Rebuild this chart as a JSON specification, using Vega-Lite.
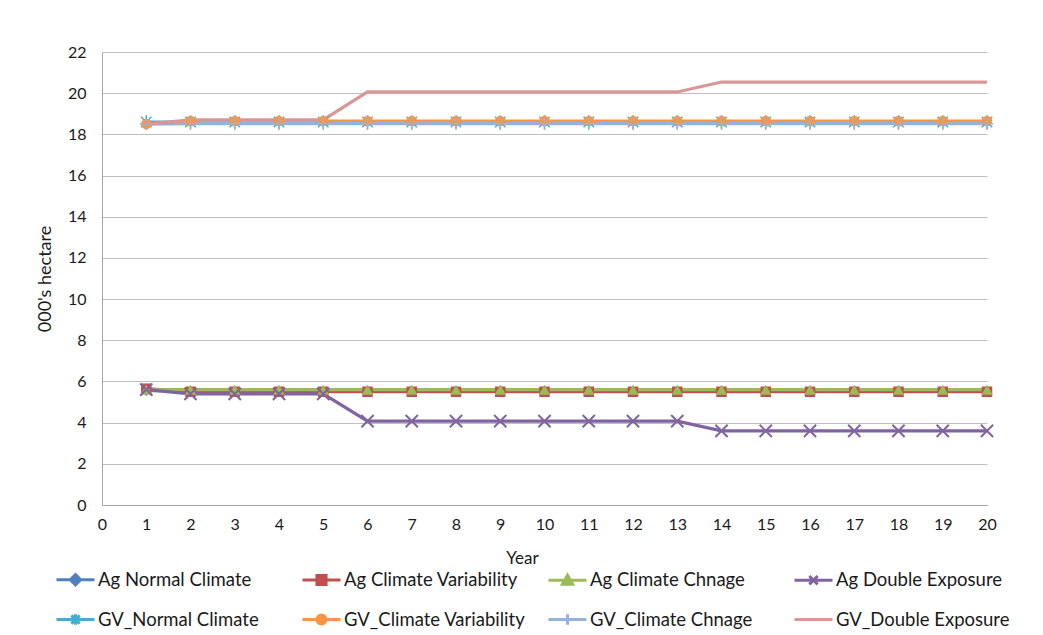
{
  "$schema": "https://vega.github.io/schema/vega-lite/v6.json",
  "width": 885,
  "height": 453,
  "autosize": {"type": "none"},
  "padding": {"left": 102, "top": 52, "right": 56, "bottom": 130},
  "background": "white",
  "config": {
    "view": {"stroke": null},
    "font": "Lato",
    "axis": {"labelFont": "Lato", "titleFont": "Lato", "labelColor": "#1a1a1a", "titleColor": "#1a1a1a", "labelFontSize": 16, "titleFontSize": 17, "titleFontWeight": "normal", "ticks": false, "domainColor": "#A6A6A6", "gridColor": "#BFBFBF"},
    "legend": {"labelFont": "Lato", "labelFontSize": 18.5, "labelColor": "#1a1a1a", "labelLimit": 300},
    "point": {"filled": true, "size": 110, "strokeWidth": 1.5, "opacity": 1}
  },
  "data": {
    "values": [
      {"year": 1, "Ag Normal Climate": 5.55, "Ag Climate Variability": 5.65, "Ag Climate Chnage": 5.6, "Ag Double Exposure": 5.6, "GV_Normal Climate": 18.6, "GV_Climate Variability": 18.5, "GV_Climate Chnage": 18.5, "GV_Double Exposure": 18.5},
      {"year": 2, "Ag Normal Climate": 5.55, "Ag Climate Variability": 5.5, "Ag Climate Chnage": 5.6, "Ag Double Exposure": 5.4, "GV_Normal Climate": 18.6, "GV_Climate Variability": 18.65, "GV_Climate Chnage": 18.52, "GV_Double Exposure": 18.7},
      {"year": 3, "Ag Normal Climate": 5.55, "Ag Climate Variability": 5.5, "Ag Climate Chnage": 5.6, "Ag Double Exposure": 5.4, "GV_Normal Climate": 18.6, "GV_Climate Variability": 18.65, "GV_Climate Chnage": 18.52, "GV_Double Exposure": 18.7},
      {"year": 4, "Ag Normal Climate": 5.55, "Ag Climate Variability": 5.5, "Ag Climate Chnage": 5.6, "Ag Double Exposure": 5.4, "GV_Normal Climate": 18.6, "GV_Climate Variability": 18.65, "GV_Climate Chnage": 18.52, "GV_Double Exposure": 18.7},
      {"year": 5, "Ag Normal Climate": 5.55, "Ag Climate Variability": 5.5, "Ag Climate Chnage": 5.6, "Ag Double Exposure": 5.4, "GV_Normal Climate": 18.6, "GV_Climate Variability": 18.65, "GV_Climate Chnage": 18.52, "GV_Double Exposure": 18.7},
      {"year": 6, "Ag Normal Climate": 5.55, "Ag Climate Variability": 5.5, "Ag Climate Chnage": 5.6, "Ag Double Exposure": 4.07, "GV_Normal Climate": 18.6, "GV_Climate Variability": 18.65, "GV_Climate Chnage": 18.52, "GV_Double Exposure": 20.06},
      {"year": 7, "Ag Normal Climate": 5.55, "Ag Climate Variability": 5.5, "Ag Climate Chnage": 5.6, "Ag Double Exposure": 4.07, "GV_Normal Climate": 18.6, "GV_Climate Variability": 18.65, "GV_Climate Chnage": 18.52, "GV_Double Exposure": 20.06},
      {"year": 8, "Ag Normal Climate": 5.55, "Ag Climate Variability": 5.5, "Ag Climate Chnage": 5.6, "Ag Double Exposure": 4.07, "GV_Normal Climate": 18.6, "GV_Climate Variability": 18.65, "GV_Climate Chnage": 18.52, "GV_Double Exposure": 20.06},
      {"year": 9, "Ag Normal Climate": 5.55, "Ag Climate Variability": 5.5, "Ag Climate Chnage": 5.6, "Ag Double Exposure": 4.07, "GV_Normal Climate": 18.6, "GV_Climate Variability": 18.65, "GV_Climate Chnage": 18.52, "GV_Double Exposure": 20.06},
      {"year": 10, "Ag Normal Climate": 5.55, "Ag Climate Variability": 5.5, "Ag Climate Chnage": 5.6, "Ag Double Exposure": 4.07, "GV_Normal Climate": 18.6, "GV_Climate Variability": 18.65, "GV_Climate Chnage": 18.52, "GV_Double Exposure": 20.06},
      {"year": 11, "Ag Normal Climate": 5.55, "Ag Climate Variability": 5.5, "Ag Climate Chnage": 5.6, "Ag Double Exposure": 4.07, "GV_Normal Climate": 18.6, "GV_Climate Variability": 18.65, "GV_Climate Chnage": 18.52, "GV_Double Exposure": 20.06},
      {"year": 12, "Ag Normal Climate": 5.55, "Ag Climate Variability": 5.5, "Ag Climate Chnage": 5.6, "Ag Double Exposure": 4.07, "GV_Normal Climate": 18.6, "GV_Climate Variability": 18.65, "GV_Climate Chnage": 18.52, "GV_Double Exposure": 20.06},
      {"year": 13, "Ag Normal Climate": 5.55, "Ag Climate Variability": 5.5, "Ag Climate Chnage": 5.6, "Ag Double Exposure": 4.07, "GV_Normal Climate": 18.6, "GV_Climate Variability": 18.65, "GV_Climate Chnage": 18.52, "GV_Double Exposure": 20.06},
      {"year": 14, "Ag Normal Climate": 5.55, "Ag Climate Variability": 5.5, "Ag Climate Chnage": 5.6, "Ag Double Exposure": 3.6, "GV_Normal Climate": 18.6, "GV_Climate Variability": 18.65, "GV_Climate Chnage": 18.52, "GV_Double Exposure": 20.54},
      {"year": 15, "Ag Normal Climate": 5.55, "Ag Climate Variability": 5.5, "Ag Climate Chnage": 5.6, "Ag Double Exposure": 3.6, "GV_Normal Climate": 18.6, "GV_Climate Variability": 18.65, "GV_Climate Chnage": 18.52, "GV_Double Exposure": 20.54},
      {"year": 16, "Ag Normal Climate": 5.55, "Ag Climate Variability": 5.5, "Ag Climate Chnage": 5.6, "Ag Double Exposure": 3.6, "GV_Normal Climate": 18.6, "GV_Climate Variability": 18.65, "GV_Climate Chnage": 18.52, "GV_Double Exposure": 20.54},
      {"year": 17, "Ag Normal Climate": 5.55, "Ag Climate Variability": 5.5, "Ag Climate Chnage": 5.6, "Ag Double Exposure": 3.6, "GV_Normal Climate": 18.6, "GV_Climate Variability": 18.65, "GV_Climate Chnage": 18.52, "GV_Double Exposure": 20.54},
      {"year": 18, "Ag Normal Climate": 5.55, "Ag Climate Variability": 5.5, "Ag Climate Chnage": 5.6, "Ag Double Exposure": 3.6, "GV_Normal Climate": 18.6, "GV_Climate Variability": 18.65, "GV_Climate Chnage": 18.52, "GV_Double Exposure": 20.54},
      {"year": 19, "Ag Normal Climate": 5.55, "Ag Climate Variability": 5.5, "Ag Climate Chnage": 5.6, "Ag Double Exposure": 3.6, "GV_Normal Climate": 18.6, "GV_Climate Variability": 18.65, "GV_Climate Chnage": 18.52, "GV_Double Exposure": 20.54},
      {"year": 20, "Ag Normal Climate": 5.55, "Ag Climate Variability": 5.5, "Ag Climate Chnage": 5.6, "Ag Double Exposure": 3.6, "GV_Normal Climate": 18.6, "GV_Climate Variability": 18.65, "GV_Climate Chnage": 18.52, "GV_Double Exposure": 20.54}
    ]
  },
  "transform": [
    {"fold": ["Ag Normal Climate", "Ag Climate Variability", "Ag Climate Chnage", "Ag Double Exposure", "GV_Normal Climate", "GV_Climate Variability", "GV_Climate Chnage", "GV_Double Exposure"], "as": ["series", "v"]}
  ],
  "encoding": {
    "x": {"field": "year", "type": "quantitative", "scale": {"domain": [0, 20], "nice": false, "zero": false},
      "axis": {"title": "Year", "values": [0,1,2,3,4,5,6,7,8,9,10,11,12,13,14,15,16,17,18,19,20], "grid": false, "labelPadding": 11, "titlePadding": 18, "titleX": 420, "labelFlush": false}},
    "y": {"field": "v", "type": "quantitative", "scale": {"domain": [0, 22], "nice": false},
      "axis": {"title": "000's hectare", "values": [0,2,4,6,8,10,12,14,16,18,20,22], "grid": true, "labelPadding": 16, "titlePadding": 13, "titleFontSize": 18}}
  },
  "layer": [
    {
      "mark": {"type": "line", "strokeWidth": 3.2},
      "encoding": {
        "color": {"field": "series", "type": "nominal",
          "scale": {"domain": ["Ag Normal Climate", "Ag Climate Variability", "Ag Climate Chnage", "Ag Double Exposure", "GV_Normal Climate", "GV_Climate Variability", "GV_Climate Chnage", "GV_Double Exposure"],
                    "range": ["#4F81BD", "#C0504D", "#9BBB59", "#8064A2", "#4BACC6", "#F79646", "#95B3D7", "#D99694"]},
          "legend": {
            "title": null, "orient": "none", "legendX": -47, "legendY": 507, "direction": "horizontal", "columns": 4,
            "gridAlign": "all", "columnPadding": 16, "rowPadding": 8, "symbolSize": 1444, "labelOffset": 2, "symbolStrokeWidth": 3,
            "encode": {"symbols": {"update": {
              "fill": {"scale": "color", "field": "value"},
              "stroke": {"scale": "color", "field": "value"},
              "strokeWidth": {"value": 3},
              "shape": {"signal": "datum.value == 'Ag Normal Climate' ? 'M-1,0H1M0,-0.27L0.27,0L0,0.27L-0.27,0Z' : datum.value == 'Ag Climate Variability' ? 'M-1,0H1M-0.24,-0.24H0.24V0.24H-0.24Z' : datum.value == 'Ag Climate Chnage' ? 'M-1,0H1M0,-0.27L0.27,0.2H-0.27Z' : datum.value == 'Ag Double Exposure' ? 'M-1,0H1M-0.22,-0.22L0.22,0.22M-0.22,0.22L0.22,-0.22' : datum.value == 'GV_Normal Climate' ? 'M-1,0H1M-0.22,-0.22L0.22,0.22M-0.22,0.22L0.22,-0.22M0,-0.28V0.28' : datum.value == 'GV_Climate Variability' ? 'M-1,0H1M-0.24,0A0.24,0.24 0 1,0 0.24,0A0.24,0.24 0 1,0 -0.24,0Z' : datum.value == 'GV_Climate Chnage' ? 'M-1,0H1M0,-0.28V0.28' : 'M-1,0H1'"}
            }}}
          }
        }
      }
    },
    {"transform": [{"filter": {"field": "series", "equal": "Ag Normal Climate"}}], "mark": {"type": "point", "shape": "diamond", "color": "#4F81BD"}},
    {"transform": [{"filter": {"field": "series", "equal": "Ag Climate Variability"}}], "mark": {"type": "point", "shape": "square", "color": "#C0504D"}},
    {"transform": [{"filter": {"field": "series", "equal": "Ag Climate Chnage"}}], "mark": {"type": "point", "shape": "triangle-up", "color": "#9BBB59", "size": 130}},
    {"transform": [{"filter": {"field": "series", "equal": "Ag Double Exposure"}}], "mark": {"type": "point", "filled": false, "shape": "M-1,-1L1,1M-1,1L1,-1", "color": "#8064A2", "size": 150, "strokeWidth": 2}},
    {"transform": [{"filter": {"field": "series", "equal": "GV_Normal Climate"}}], "mark": {"type": "point", "filled": false, "shape": "M-1,-1L1,1M-1,1L1,-1M0,-1.3V1.3", "color": "#4BACC6", "strokeWidth": 1.5}},
    {"transform": [{"filter": {"field": "series", "equal": "GV_Climate Variability"}}], "mark": {"type": "point", "shape": "circle", "color": "#F79646"}},
    {"transform": [{"filter": {"field": "series", "equal": "GV_Climate Chnage"}}], "mark": {"type": "point", "filled": false, "shape": "M-1.2,0H1.2M0,-1.2V1.2", "color": "#95B3D7", "strokeWidth": 1.5}}
  ]
}
